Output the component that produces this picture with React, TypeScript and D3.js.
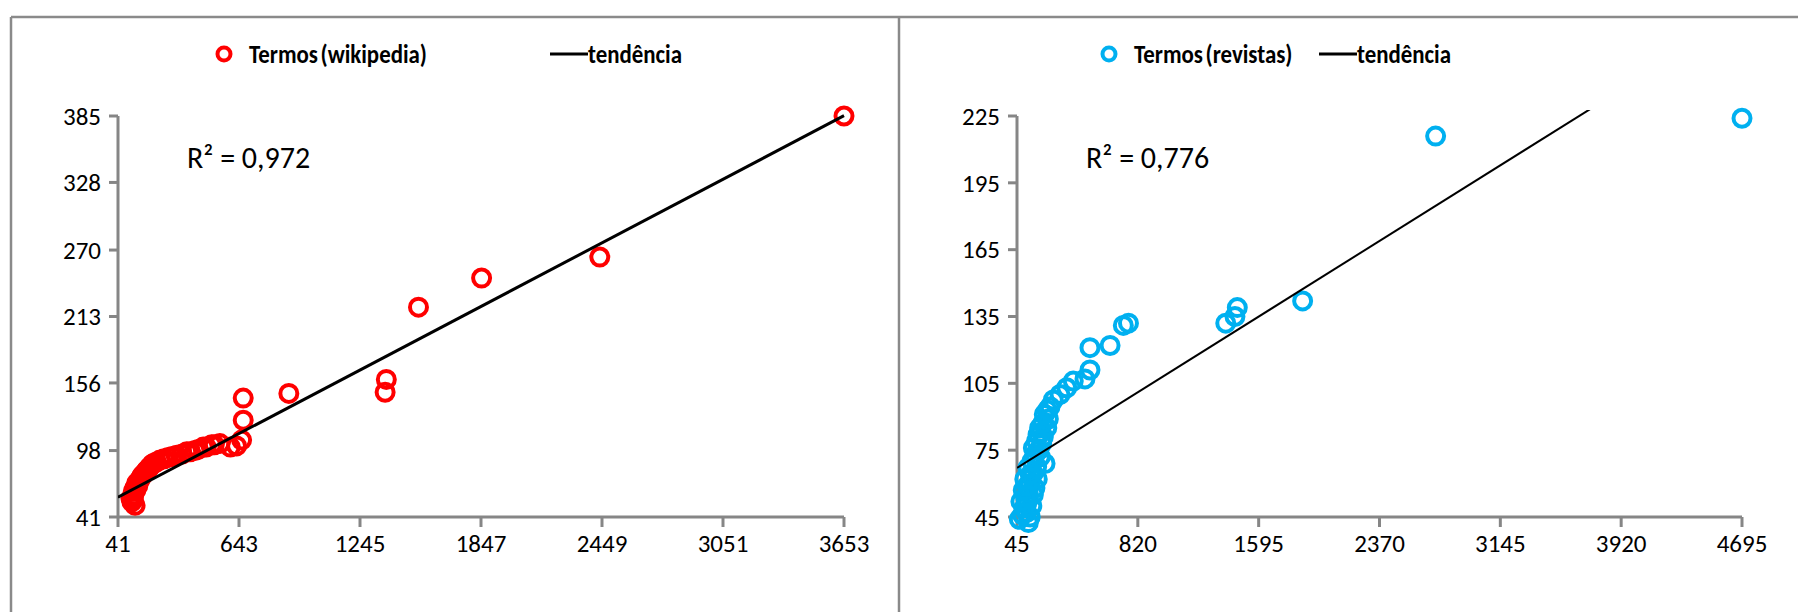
import React from 'react';
import * as d3 from 'd3';

// Termos (wikipedia) — [x, y]
const wikiX = [3653, 2438, 1850, 1536, 1376, 1370, 891, 664, 664, 656, 631, 600, 548, 520, 507, 480, 465, 440, 424, 400, 383, 360, 333, 310, 291, 270, 250, 230, 217, 200, 184, 170, 159, 145, 134, 125, 117, 115, 117, 126, 110, 105, 120, 130, 140, 150, 165, 180, 195, 210];
const wikiY = [385, 264, 246, 221, 159, 148, 147, 143, 124, 107, 102, 101, 104, 103, 103, 101, 101, 99, 98, 97, 97, 95, 94, 93, 92, 91, 90, 88, 87, 84, 81, 78, 76, 72, 70, 66, 63, 59, 56, 51, 54, 57, 60, 64, 68, 73, 77, 80, 83, 86];
const wikiXTicks = [41, 643, 1245, 1847, 2449, 3051, 3653];
const wikiYTicks = [41, 98, 156, 213, 270, 328, 385];
const wikiTrend = { slope: 0.0906, intercept: 54.3 };

// Termos (revistas)
const revX = [4695, 2730, 1877, 1458, 1443, 1384, 760, 727, 642, 513, 513, 481, 406, 364, 321, 278, 257, 246, 236, 214, 203, 225, 171, 150, 128, 118, 107, 107, 118, 130, 140, 150, 160, 175, 195, 185, 200,
  60, 80, 90, 70, 100, 85, 110, 95, 130, 115, 140, 160, 150, 170, 180, 190, 210, 220, 240];
const revY = [224, 216, 142, 139, 135, 132, 132, 131, 122, 121, 111, 107, 106, 103, 100, 97.5, 94.5, 89, 85, 81, 78, 69, 67.6, 64.6, 60, 55.6, 51, 47, 42.5, 45, 50, 55, 58, 62, 72, 75, 83,
  44, 46, 49, 52, 54, 57, 59, 62, 64, 67, 70, 73, 76, 79, 82, 85, 87, 91, 93];
const revXTicks = [45, 820, 1595, 2370, 3145, 3920, 4695];
const revYTicks = [45, 75, 105, 135, 165, 195, 225];
const revTrend = { slope: 0.0438, intercept: 65.1 };

const FONT = 'Carlito, Calibri, Lato, sans-serif';
const AXIS = '#868686';
const TOP = 116;
const BOTTOM = 517;

type PanelProps = {
  id: string;
  xs: number[];
  ys: number[];
  xTicks: number[];
  yTicks: number[];
  trend: { slope: number; intercept: number };
  color: string;
  name: string;
  r2: string;
  left: number;
  right: number;
  legendX: number;
  lineX: number;
  trendWidth: number;
};

// condensed bold legend label
function LegendText({ x, y, children, ws = 0 }: { x: number; y: number; children: string; ws?: number }) {
  return (
    <text transform={`translate(${x},${y}) scale(0.88,1)`} dy="0.35em" fontFamily={FONT} fontWeight="bold" fontSize={26} wordSpacing={ws}>
      {children}
    </text>
  );
}

function Panel(p: PanelProps) {
  const x = d3.scaleLinear().domain(d3.extent(p.xTicks) as [number, number]).range([p.left, p.right]);
  const y = d3.scaleLinear().domain(d3.extent(p.yTicks) as [number, number]).range([BOTTOM, TOP]);
  const [x0, x1] = x.domain();
  const trendPts: [number, number][] = [x0, x1].map(v => [v, p.trend.intercept + p.trend.slope * v]);
  const line = d3.line<[number, number]>().x(d => x(d[0])).y(d => y(d[1]));
  const points = p.xs.map((v, i) => [v, p.ys[i]] as [number, number]);

  return (
    <g>
      <defs>
        <clipPath id={`clip-${p.id}`}>
          <rect x={p.left} y={TOP - 6} width={p.right - p.left + 10} height={BOTTOM - TOP + 20} />
        </clipPath>
      </defs>
      {/* legend */}
      <circle cx={p.legendX} cy={54} r={6.5} fill="none" stroke={p.color} strokeWidth={4} />
      <LegendText x={p.legendX + 25} y={54} ws={-3}>{p.name}</LegendText>
      <line x1={p.lineX} x2={p.lineX + 38} y1={54} y2={54} stroke="#000" strokeWidth={3} />
      <LegendText x={p.lineX + 38} y={54}>tendência</LegendText>

      {/* axes */}
      <line x1={p.left} x2={p.left} y1={TOP} y2={BOTTOM} stroke={AXIS} strokeWidth={3} />
      <line x1={p.left} x2={p.right} y1={BOTTOM} y2={BOTTOM} stroke={AXIS} strokeWidth={3} />
      {p.yTicks.map(t => (
        <g key={`y${t}`}>
          <line x1={p.left - 9} x2={p.left} y1={y(t)} y2={y(t)} stroke={AXIS} strokeWidth={3} />
          <text x={p.left - 17} y={y(t)} dy="0.35em" textAnchor="end" fontFamily={FONT} fontSize={25}>{t}</text>
        </g>
      ))}
      {p.xTicks.map(t => (
        <g key={`x${t}`}>
          <line x1={x(t)} x2={x(t)} y1={BOTTOM} y2={BOTTOM + 10} stroke={AXIS} strokeWidth={3} />
          <text x={x(t)} y={543} dy="0.35em" textAnchor="middle" fontFamily={FONT} fontSize={25}>{t}</text>
        </g>
      ))}

      {/* points */}
      {points.map((d, i) => (
        <circle key={i} cx={x(d[0])} cy={y(d[1])} r={8.5} fill="none" stroke={p.color} strokeWidth={4} />
      ))}

      {/* trend */}
      <path d={line(trendPts) || ''} fill="none" stroke="#000" strokeWidth={p.trendWidth} clipPath={`url(#clip-${p.id})`} />

      <text x={p.left + 69} y={157} dy="0.35em" fontFamily={FONT} fontSize={30}>{p.r2}</text>
    </g>
  );
}

export default function App() {
  return (
    <svg width={1798} height={612} style={{ position: 'absolute', left: 0, top: 0, background: '#fff' }}>
      <rect width={1798} height={612} fill="#fff" />
      <line x1={11} x2={1798} y1={17} y2={17} stroke="#8a8a8a" strokeWidth={2.5} />
      <line x1={11} x2={11} y1={17} y2={612} stroke="#8a8a8a" strokeWidth={2.5} />
      <line x1={899} x2={899} y1={17} y2={612} stroke="#8a8a8a" strokeWidth={2.5} />
      <Panel id="wiki" xs={wikiX} ys={wikiY} xTicks={wikiXTicks} yTicks={wikiYTicks} trend={wikiTrend}
        color="#ff0000" name="Termos (wikipedia)" r2="R² = 0,972" left={118} right={844}
        legendX={224} lineX={550} trendWidth={3} />
      <Panel id="rev" xs={revX} ys={revY} xTicks={revXTicks} yTicks={revYTicks} trend={revTrend}
        color="#00b0f0" name="Termos (revistas)" r2="R² = 0,776" left={1017} right={1742}
        legendX={1109} lineX={1319} trendWidth={2} />
    </svg>
  );
}
